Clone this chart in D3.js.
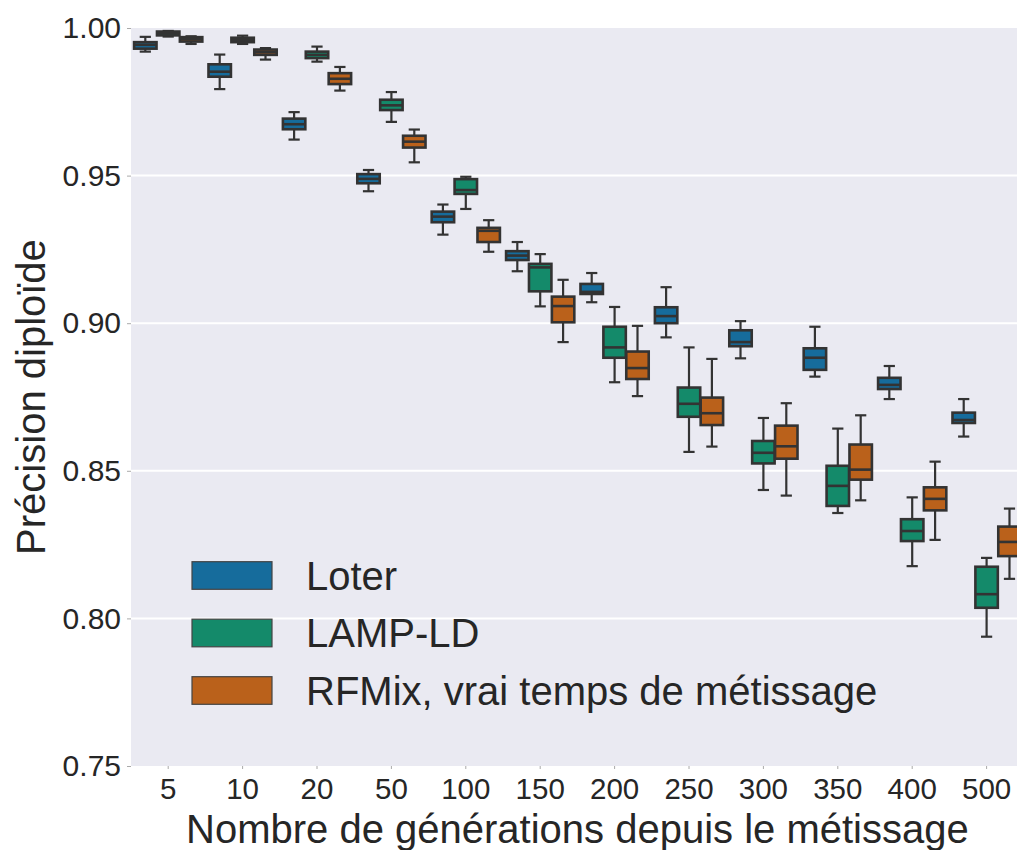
<!DOCTYPE html>
<html>
<head>
<meta charset="utf-8">
<script src="https://cdn.jsdelivr.net/npm/d3@7"></script>
<style>
  html, body { margin: 0; padding: 0; background: #ffffff; }
  svg { display: block; font-family: "Liberation Sans", Arial, sans-serif; }
</style>
</head>
<body>
<svg id="chart" width="1017" height="850"></svg>
<script>
// ---------- data ----------
const categories = ["5", "10", "20", "50", "100", "150", "200", "250", "300", "350", "400", "500"];
const seriesNames = ["Loter", "LAMP-LD", "RFMix, vrai temps de métissage"];
const seriesColors = ["#166C9C", "#148A6A", "#BA611B"];
const yTicks = [0.75, 0.80, 0.85, 0.90, 0.95, 1.00];

// [whisker low, Q1, median, Q3, whisker high] per category
const loterStats = [
  [0.9920, 0.9930, 0.9943, 0.9952, 0.9970],
  [0.9793, 0.9835, 0.9852, 0.9877, 0.9910],
  [0.9622, 0.9657, 0.9674, 0.9693, 0.9715],
  [0.9447, 0.9474, 0.9489, 0.9505, 0.9519],
  [0.9300, 0.9342, 0.9361, 0.9378, 0.9402],
  [0.9176, 0.9214, 0.9229, 0.9244, 0.9275],
  [0.9071, 0.9099, 0.9106, 0.9133, 0.9170],
  [0.8952, 0.9000, 0.9024, 0.9054, 0.9122],
  [0.8881, 0.8922, 0.8936, 0.8976, 0.9007],
  [0.8819, 0.8842, 0.8883, 0.8915, 0.8988],
  [0.8743, 0.8777, 0.8791, 0.8815, 0.8855],
  [0.8616, 0.8662, 0.8672, 0.8697, 0.8743]
];
const lampStats = [
  [0.9971, 0.9975, 0.9982, 0.9988, 0.9990],
  [0.9946, 0.9952, 0.9959, 0.9967, 0.9974],
  [0.9886, 0.9898, 0.9909, 0.9920, 0.9937],
  [0.9682, 0.9722, 0.9738, 0.9757, 0.9783],
  [0.9387, 0.9438, 0.9451, 0.9488, 0.9496],
  [0.9057, 0.9108, 0.9189, 0.9201, 0.9234],
  [0.8800, 0.8883, 0.8918, 0.8988, 0.9055],
  [0.8564, 0.8683, 0.8727, 0.8782, 0.8918],
  [0.8435, 0.8525, 0.8561, 0.8601, 0.8679],
  [0.8357, 0.8381, 0.8449, 0.8517, 0.8643],
  [0.8177, 0.8262, 0.8296, 0.8336, 0.8410],
  [0.7938, 0.8036, 0.8082, 0.8175, 0.8205]
];
const rfmixStats = [
  [0.9946, 0.9954, 0.9962, 0.9969, 0.9972],
  [0.9893, 0.9909, 0.9918, 0.9927, 0.9932],
  [0.9788, 0.9810, 0.9828, 0.9847, 0.9868],
  [0.9545, 0.9595, 0.9615, 0.9635, 0.9656],
  [0.9242, 0.9275, 0.9313, 0.9323, 0.9349],
  [0.8936, 0.9003, 0.9058, 0.9090, 0.9147],
  [0.8753, 0.8811, 0.8848, 0.8904, 0.8991],
  [0.8582, 0.8655, 0.8695, 0.8748, 0.8879],
  [0.8416, 0.8541, 0.8583, 0.8653, 0.8729],
  [0.8400, 0.8470, 0.8504, 0.8589, 0.8688],
  [0.8266, 0.8366, 0.8405, 0.8444, 0.8531],
  [0.8134, 0.8211, 0.8259, 0.8311, 0.8372]
];
const allStats = [loterStats, lampStats, rfmixStats];

// ---------- layout ----------
const svg = d3.select("#chart");
const plotLeft = 131, plotTop = 28, plotBottom = 766, bandW = 74.4;
const plotRight = plotLeft + bandW * categories.length;
const textColor = "#262626";
const edge = "#333333";

const x = d3.scaleBand().domain(categories).range([plotLeft, plotRight]).paddingInner(0).paddingOuter(0);
const hue = d3.scaleBand().domain(seriesNames).range([0, x.bandwidth()]).paddingOuter(0.125).paddingInner(0);
const y = d3.scaleLinear().domain([0.75, 1.0]).range([plotBottom, plotTop]);

// background
svg.append("rect").attr("x", plotLeft).attr("y", plotTop)
  .attr("width", plotRight - plotLeft).attr("height", plotBottom - plotTop).attr("fill", "#EAEAF2");

// gridlines
svg.append("g").selectAll("line").data(yTicks.filter(t => t > 0.75 && t < 1.0)).join("line")
  .attr("x1", plotLeft).attr("x2", plotRight)
  .attr("y1", d => y(d)).attr("y2", d => y(d))
  .attr("stroke", "#ffffff").attr("stroke-width", 2);

// y axis
const yAxis = d3.axisLeft(y).tickValues(yTicks).tickFormat(d3.format(".2f")).tickSize(4).tickPadding(6);
const gy = svg.append("g").attr("transform", `translate(${plotLeft},0)`).call(yAxis);
gy.select(".domain").remove();
gy.selectAll(".tick line").attr("stroke", "#aaaaaa").attr("stroke-width", 1);
gy.selectAll(".tick text").attr("font-size", 30).attr("fill", textColor)
  .attr("font-family", "'Liberation Sans', Arial, sans-serif");

// x axis
const xAxis = d3.axisBottom(x).tickSize(3).tickPadding(9);
const gx = svg.append("g").attr("transform", `translate(0,${plotBottom})`).call(xAxis);
gx.select(".domain").remove();
gx.selectAll(".tick line").attr("stroke", "#aaaaaa").attr("stroke-width", 1);
gx.selectAll(".tick text").attr("font-size", 29.5).attr("fill", textColor)
  .attr("font-family", "'Liberation Sans', Arial, sans-serif");

// boxes
const boxW = hue.bandwidth() * 0.98;
seriesNames.forEach((name, si) => {
  const g = svg.append("g");
  const data = allStats[si].map((s, ci) => ({ cat: categories[ci], s }));
  const cx = d => x(d.cat) + hue(name) + hue.bandwidth() / 2;
  g.selectAll("line.wlo").data(data).join("line").attr("class", "wlo")
    .attr("x1", cx).attr("x2", cx).attr("y1", d => y(d.s[0])).attr("y2", d => y(d.s[1]))
    .attr("stroke", edge).attr("stroke-width", 2.2);
  g.selectAll("line.whi").data(data).join("line").attr("class", "whi")
    .attr("x1", cx).attr("x2", cx).attr("y1", d => y(d.s[3])).attr("y2", d => y(d.s[4]))
    .attr("stroke", edge).attr("stroke-width", 2.2);
  ["capLo", "capHi"].forEach((c, k) => {
    const idx = k === 0 ? 0 : 4;
    g.selectAll("line." + c).data(data).join("line").attr("class", c)
      .attr("x1", d => cx(d) - boxW / 4).attr("x2", d => cx(d) + boxW / 4)
      .attr("y1", d => y(d.s[idx])).attr("y2", d => y(d.s[idx]))
      .attr("stroke", edge).attr("stroke-width", 2.2);
  });
  g.selectAll("rect").data(data).join("rect")
    .attr("x", d => cx(d) - boxW / 2).attr("width", boxW)
    .attr("y", d => y(d.s[3])).attr("height", d => y(d.s[1]) - y(d.s[3]))
    .attr("fill", seriesColors[si]).attr("stroke", edge).attr("stroke-width", 2.6);
  g.selectAll("line.med").data(data).join("line").attr("class", "med")
    .attr("x1", d => cx(d) - boxW / 2).attr("x2", d => cx(d) + boxW / 2)
    .attr("y1", d => y(d.s[2])).attr("y2", d => y(d.s[2]))
    .attr("stroke", edge).attr("stroke-width", 2.6);
});

// legend
const leg = svg.append("g");
seriesNames.forEach((name, i) => {
  const yy = 561.7 + i * 57.5;
  leg.append("rect").attr("x", 192).attr("y", yy).attr("width", 80).attr("height", 27.6)
    .attr("fill", seriesColors[i]).attr("stroke", "#444444").attr("stroke-width", 1.2);
  leg.append("text").attr("x", 306).attr("y", yy + 27.8)
    .attr("font-size", 40).attr("fill", textColor).text(name);
});

// axis titles
svg.append("text").attr("x", (plotLeft + plotRight) / 2).attr("y", 843)
  .attr("text-anchor", "middle").attr("font-size", 40).attr("fill", textColor)
  .text("Nombre de générations depuis le métissage");
svg.append("text").attr("transform", `translate(45,${(plotTop + plotBottom) / 2}) rotate(-90)`)
  .attr("text-anchor", "middle").attr("font-size", 40).attr("fill", textColor)
  .text("Précision diploïde");
</script>
</body>
</html>
